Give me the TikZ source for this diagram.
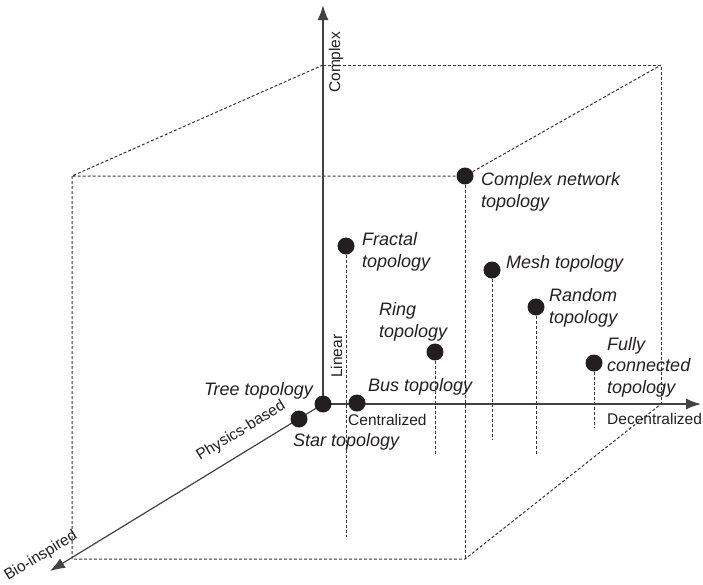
\documentclass[tikz,border=0pt]{standalone}
\usepackage{fontspec}
\setmainfont{Liberation Sans}
\usepackage{xcolor}
\usepackage{tikz}
\usetikzlibrary{arrows.meta,calc,positioning}
\usetikzlibrary{backgrounds}
\definecolor{ink}{HTML}{231F20}

\begin{document}
\begin{tikzpicture}[
    x=1pt, y=-1pt,
    dot/.style={circle, fill=ink, inner sep=0, minimum size=17pt},
    axis/.style={draw=ink!85, line width=1.4pt, -{Latex[length=15pt, width=11pt]}},
    boxedge/.style={draw=ink!90, line width=1pt, dash pattern=on 3pt off 2pt},
    topo/.style={font=\fontsize{18}{21.5}\selectfont\itshape, text=ink, align=left, inner sep=0, anchor=base west},
    axlabel/.style={font=\fontsize{15.5}{18}\selectfont, text=ink, inner sep=0, anchor=base west}]
\useasboundingbox (0,0) rectangle (703,584);

% corners of the box and axis tips
\coordinate (btl) at (323,65);
\coordinate (btr) at (661,65);
\coordinate (bbr) at (661,404);
\coordinate (ftl) at (72,176);
\coordinate (fbl) at (72,559);
\coordinate (fbr) at (465,559);
\coordinate (ytip) at (323,5);
\coordinate (xtip) at (701,404);
\coordinate (ztip) at (50,571);

% topologies
\node[dot] (tree)    at (323,404) {};
\node[dot] (star)    at (299,419) {};
\node[dot] (bus)     at (357,403) {};
\node[dot] (fractal) at (346,246) {};
\node[dot] (cnet)    at (465,176) {};
\node[dot] (mesh)    at (492,270) {};
\node[dot] (ring)    at (435,352) {};
\node[dot] (random)  at (536,307) {};
\node[dot] (fully)   at (594,363) {};

\coordinate (fractal-end) at (346,537);
\coordinate (mesh-end)    at (492,440);
\coordinate (ring-end)    at (435,455);
\coordinate (random-end)  at (536,455);
\coordinate (fully-end)   at (594,428);

% labels sit on the baseline of their last line
\node[topo] (cnet-l)    at (481,207) {Complex network\\topology};
\node[topo] (fractal-l) at (362,267) {Fractal\\topology};
\node[topo] (mesh-l)    at (506,268) {Mesh topology};
\node[topo] (ring-l)    at (379,337) {Ring\\topology};
\node[topo] (random-l)  at (549,323) {Random\\topology};
\node[topo] (fully-l)   at (607,393) {Fully\\connected\\topology};
\node[topo] (bus-l)     at (368,391) {Bus topology};
\node[topo, anchor=base east] (tree-l) at (313,395) {Tree topology};
\node[topo] (star-l)    at (293,446) {Star topology};

% axis labels
\node[axlabel] (cent)   at (348,425) {Centralized};
\node[axlabel] (decent) at (607,424) {Decentralized};
\node[axlabel, rotate=90] (lin)  at (342,378) {Linear};
\node[axlabel, rotate=90] (cplx) at (340,93) {Complex};
\node[axlabel, rotate=31.5] (phys) at (200,461) {Physics-based};
\node[axlabel, rotate=31.5] (bio)  at (8,581) {Bio-inspired};

\begin{scope}[on background layer]
\draw[boxedge] (btl) -- (btr) -- (bbr);
\draw[boxedge] (btl) -- (ftl) -- (cnet) -- (btr);
\draw[boxedge] (ftl) -- (fbl) -- (fbr) -- (bbr);
\draw[boxedge] (cnet) -- (fbr);
\draw[boxedge] (fractal) -- (fractal-end);
\draw[boxedge] (mesh) -- (mesh-end);
\draw[boxedge] (ring) -- (ring-end);
\draw[boxedge] (random) -- (random-end);
\draw[boxedge] (fully) -- (fully-end);
\draw[axis, line width=1.8pt] (tree.center) -- (ytip);
\draw[axis] (tree.center) -- (xtip);
\draw[axis, line width=1.2pt] (tree.center) -- (ztip);
\end{scope}

\end{tikzpicture}
\end{document}
